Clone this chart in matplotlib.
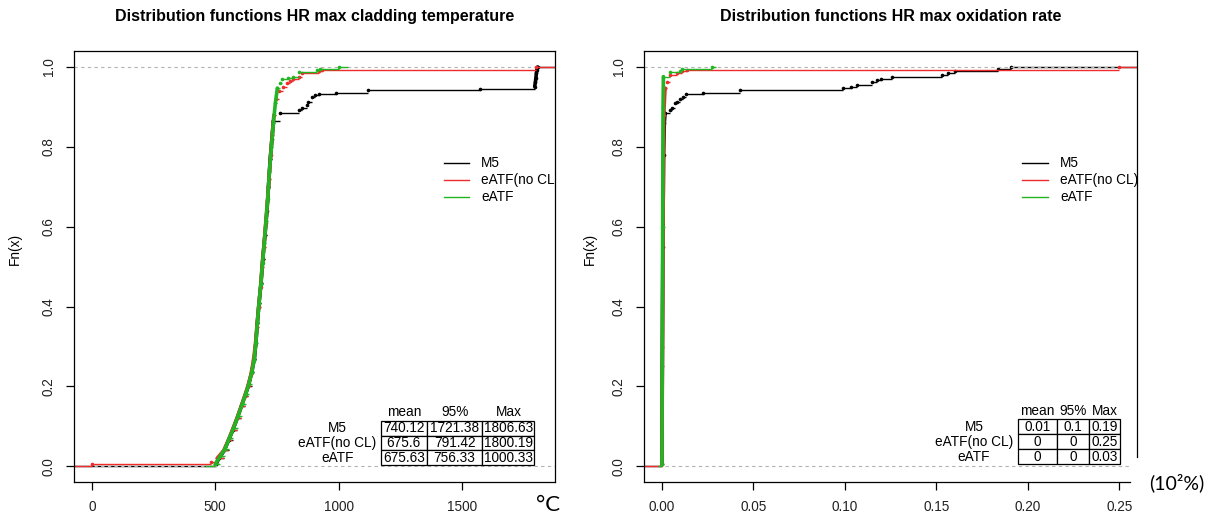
import numpy as np
import matplotlib.pyplot as plt

plt.rcParams['font.family'] = ['Liberation Sans', 'DejaVu Sans']

# --- series names and summary tables ---
series_names = ['M5', 'eATF(no CL)', 'eATF']
table_cols = ['mean', '95%', 'Max']
temp_table = [['740.12', '1721.38', '1806.63'],
              ['675.6', '791.42', '1800.19'],
              ['675.63', '756.33', '1000.33']]
oxid_table = [['0.01', '0.1', '0.19'],
              ['0', '0', '0.25'],
              ['0', '0', '0.03']]

# --- HR max cladding temperature (°C): jump points of the ECDFs ---
temp_m5_x = [502, 516, 537, 554, 571, 589, 606, 620, 634, 648, 659, 665, 671, 678, 686,
             693, 702, 710, 716, 723, 730, 736, 763, 838, 851, 871, 878, 892, 905, 919,
             990, 1121, 1574, 1795, 1798, 1800, 1802, 1804, 1806.63]
temp_m5_f = [0.005, 0.02, 0.04, 0.065, 0.09, 0.12, 0.15, 0.175, 0.2, 0.235, 0.27, 0.31, 0.36,
             0.41, 0.46, 0.52, 0.58, 0.64, 0.7, 0.77, 0.82, 0.865, 0.884, 0.893, 0.898, 0.905,
             0.913, 0.926, 0.93, 0.932, 0.936, 0.942, 0.946, 0.951, 0.962, 0.973, 0.984,
             0.993, 1.0]
temp_nocl_x = [0, 484, 508, 535, 553, 569, 588, 605, 619, 632, 645, 655, 663, 669, 676, 684,
               690, 697, 705, 712, 718, 725, 731, 738, 748, 760, 775, 790, 804, 815, 838, 851,
               920, 935, 1800.19]
temp_nocl_f = [0.005, 0.01, 0.02, 0.04, 0.065, 0.09, 0.12, 0.15, 0.175, 0.2, 0.23, 0.265,
               0.305, 0.35, 0.4, 0.45, 0.5, 0.55, 0.61, 0.665, 0.72, 0.78, 0.83, 0.88, 0.92,
               0.94, 0.95, 0.959, 0.965, 0.97, 0.976, 0.984, 0.99, 0.993, 1.0]
temp_eatf_x = [500, 520, 540, 557, 574, 592, 609, 623, 637, 648, 658, 665, 671, 678, 685, 692,
               699, 706, 713, 720, 728, 736, 744, 752, 762, 772, 795, 817, 838, 912, 925,
               1000.33]
temp_eatf_f = [0.005, 0.025, 0.044, 0.07, 0.095, 0.125, 0.155, 0.18, 0.207, 0.235, 0.267,
               0.31, 0.361, 0.41, 0.456, 0.51, 0.559, 0.615, 0.67, 0.74, 0.8, 0.86, 0.91,
               0.947, 0.96, 0.97, 0.972, 0.976, 0.987, 0.992, 0.995, 1.0]

# --- HR max oxidation rate (10^2 %) ---
oxid_m5_x = [0.0, 0.0002, 0.0005, 0.0009, 0.0013, 0.0017, 0.0044, 0.0053, 0.0072, 0.0081,
             0.0099, 0.0117, 0.0132, 0.0226, 0.0427, 0.0992, 0.1032, 0.1069, 0.1147, 0.1174,
             0.1196, 0.1256, 0.153, 0.1566, 0.1603, 0.184, 0.1909]
oxid_m5_f = [0.005, 0.25, 0.55, 0.78, 0.86, 0.884, 0.892, 0.898, 0.909, 0.913, 0.92, 0.926,
             0.932, 0.936, 0.942, 0.947, 0.951, 0.956, 0.962, 0.967, 0.97, 0.976, 0.98,
             0.986, 0.991, 0.995, 1.0]
oxid_nocl_x = [0.0, 0.0003, 0.0006, 0.001, 0.0017, 0.0026, 0.0044, 0.0081, 0.0108, 0.0135, 0.25]
oxid_nocl_f = [0.005, 0.3, 0.6, 0.88, 0.947, 0.963, 0.98, 0.984, 0.99, 0.993, 1.0]
oxid_eatf_x = [0.0, 0.0002, 0.0004, 0.0006, 0.0008, 0.0044, 0.0099, 0.0108, 0.0272]
oxid_eatf_f = [0.005, 0.3, 0.6, 0.9, 0.976, 0.988, 0.991, 0.996, 1.0]

colors = ['#000000', '#EE2C2C', '#22B422']


def draw_ecdf(ax, x, f, color, dense, to_left_edge=True, to_right_edge=True):
    """R style ecdf: horizontal steps + a dot at every jump."""
    x = np.asarray(x, float)
    f = np.asarray(f, float)
    xmin, xmax = ax.get_xlim()
    dr = 0.08 * (x[-1] - x[0])
    x_left = xmin - 1 if to_left_edge else x[0] - dr
    x_right = xmax + 1 if to_right_edge else x[-1] + dr
    xs = np.concatenate([[x_left], x, [x_right]])
    fs = np.concatenate([[0.0], f, [f[-1]]])
    ax.hlines(fs[:-1], xs[:-1], xs[1:], color=color, lw=1.0)
    # where the sample is dense the dots merge into a thick curve
    for a, b in dense:
        ax.plot(x[a:b], f[a:b], color=color, lw=2.6, solid_capstyle='round')
    ax.plot(x, f, 'o', color=color, ms=2.6, mec='none')


def style_axes(ax, xticks, fmt):
    ax.set_ylim(-0.04, 1.04)
    ax.set_yticks(np.arange(0, 1.01, 0.2))
    ax.set_yticklabels([f'{v:.1f}' for v in np.arange(0, 1.01, 0.2)], rotation=90,
                       va='center')
    ax.set_xticks(xticks)
    ax.set_xticklabels([fmt.format(v) for v in xticks])
    ax.tick_params(direction='out', length=6, width=0.9, pad=7, labelsize=9.8,
                   labelcolor='#222222')
    for s in ax.spines.values():
        s.set_linewidth(0.9)


def add_legend(ax, xl0, xl1, xt):
    for i, (name, c) in enumerate(zip(series_names, colors)):
        y = 0.740 - i * 0.0395
        ax.plot([xl0, xl1], [y, y], color=c, lw=1.0, transform=ax.transAxes)
        ax.text(xt, y, name, transform=ax.transAxes, va='center', ha='left',
                fontsize=9.8, clip_on=True)


def add_table(ax, cells, bbox, col_widths, label_x):
    tab = ax.table(cellText=cells, cellLoc='center', colWidths=col_widths, bbox=bbox,
                   zorder=5)
    tab.auto_set_font_size(False)
    tab.set_fontsize(9.8)
    for cell in tab.get_celld().values():
        cell.set_linewidth(0.9)
        cell.set_edgecolor('black')
    x0, y0, w, h = bbox
    widths = np.asarray(col_widths) / np.sum(col_widths) * w
    lefts = x0 + np.concatenate([[0], np.cumsum(widths)[:-1]])
    for name, l, cw in zip(table_cols, lefts, widths):
        ax.text(l + cw / 2, y0 + h + 0.02, name, transform=ax.transAxes, ha='center',
                va='center', fontsize=9.8)
    for i, name in enumerate(series_names):
        ax.text(label_x, y0 + h * (5 - 2 * i) / 6, name, transform=ax.transAxes,
                ha='center', va='center', fontsize=9.8)


fig = plt.figure(figsize=(12.11, 5.14), dpi=100)

# ---------------- left: cladding temperature ----------------
ax1 = fig.add_axes([0.0611, 0.0617, 0.3975, 0.839])
ax1.set_xlim(-72.3, 1878.9)
style_axes(ax1, [0, 500, 1000, 1500], '{:.0f}')
draw_ecdf(ax1, temp_m5_x, temp_m5_f, colors[0], [(0, 22), (33, 39)])
ax1.axhline(0, color='#B3B3B3', lw=0.8, ls=(0, (3, 3)))
ax1.axhline(1, color='#B3B3B3', lw=0.8, ls=(0, (3, 3)))
draw_ecdf(ax1, temp_nocl_x, temp_nocl_f, colors[1], [(2, 24)])
draw_ecdf(ax1, temp_eatf_x, temp_eatf_f, colors[2], [(0, 24)],
          to_left_edge=False, to_right_edge=False)
add_legend(ax1, 0.769, 0.821, 0.846)
add_table(ax1, temp_table, [0.6374, 0.0401, 0.3191, 0.102], [46, 55.6, 52], 0.5467)
ax1.text(0.5, 1.081, 'Distribution functions HR max cladding temperature',
         transform=ax1.transAxes, ha='center', va='center', fontsize=11.5,
         fontweight='bold')
fig.text(15 / 1211, 0.5166, 'Fn(x)', rotation=90, ha='center', va='center', fontsize=9.8)
fig.text(548 / 1211, 1 - 505 / 514, '°C', ha='center', va='center', fontsize=16,
         family=['Lato', 'DejaVu Sans'])

# ---------------- right: oxidation rate ----------------
ax2 = fig.add_axes([0.5315, 0.0617, 0.4078, 0.839])
ax2.set_xlim(-0.01, 0.26)
style_axes(ax2, [0, 0.05, 0.10, 0.15, 0.20, 0.25], '{:.2f}')
draw_ecdf(ax2, oxid_m5_x, oxid_m5_f, colors[0], [(0, 6)])
ax2.plot([-0.02, 0.2557], [0, 0], color='#B3B3B3', lw=0.8, ls=(0, (3, 3)))
ax2.axhline(1, color='#B3B3B3', lw=0.8, ls=(0, (3, 3)))
draw_ecdf(ax2, oxid_nocl_x, oxid_nocl_f, colors[1], [(0, 5)])
draw_ecdf(ax2, oxid_eatf_x, oxid_eatf_f, colors[2], [(0, 5)], to_left_edge=False,
          to_right_edge=False)
add_legend(ax2, 0.766, 0.819, 0.843)
add_table(ax2, oxid_table, [0.7582, 0.0424, 0.2066, 0.104], [39, 31.8, 31.4], 0.669)
ax2.text(0.5, 1.081, 'Distribution functions HR max oxidation rate',
         transform=ax2.transAxes, ha='center', va='center', fontsize=11.5,
         fontweight='bold')
fig.text(590 / 1211, 0.5166, 'Fn(x)', rotation=90, ha='center', va='center', fontsize=9.8)
# bottom-right corner of the frame is covered by the unit label in the original
ax2.spines['right'].set_bounds(0.023, 1.04)
ax2.spines['bottom'].set_bounds(-0.01, 0.2557)
fig.text(1177 / 1211, 1 - 483 / 514, '(10²%)', ha='center', va='center', fontsize=14,
         family=['Lato', 'DejaVu Sans'])

fig.savefig('out.png', dpi=100)
